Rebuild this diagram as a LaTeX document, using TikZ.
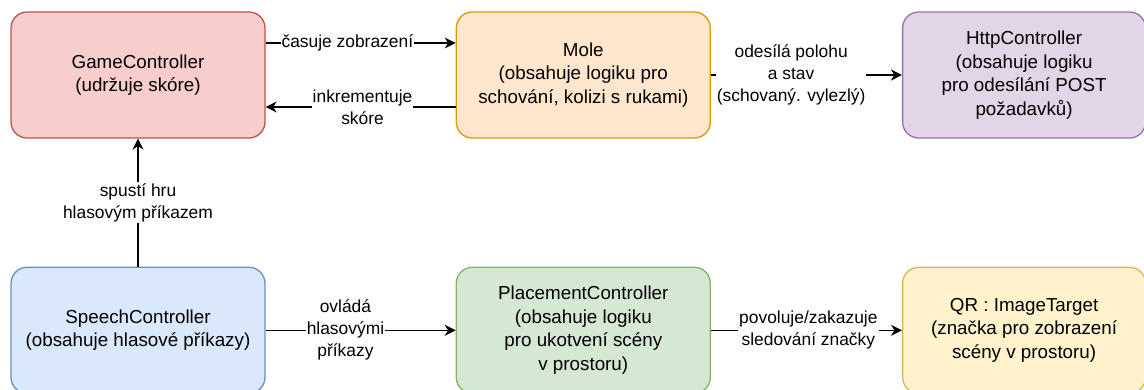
\documentclass[tikz,border=0pt]{standalone}
\usepackage{fontspec}
\setmainfont{Liberation Sans}
\usetikzlibrary{arrows.meta}
\usetikzlibrary{positioning}

\definecolor{gcfill}{HTML}{F8CECC}
\definecolor{gcdraw}{HTML}{B85450}
\definecolor{molefill}{HTML}{FFE6CC}
\definecolor{moledraw}{HTML}{D79B00}
\definecolor{httpfill}{HTML}{E1D5E7}
\definecolor{httpdraw}{HTML}{9673A6}
\definecolor{speechfill}{HTML}{DAE8FC}
\definecolor{speechdraw}{HTML}{6C8EBF}
\definecolor{placefill}{HTML}{D5E8D4}
\definecolor{placedraw}{HTML}{82B366}
\definecolor{qrfill}{HTML}{FFF2CC}
\definecolor{qrdraw}{HTML}{D6B656}

\begin{document}
\begin{tikzpicture}[>={Stealth[length=11pt,width=11pt,inset=3.5pt]},node distance=190pt,line width=1.3pt]
 \tikzstyle{box node}=[rectangle,rounded corners=16pt,draw,minimum width=254pt,minimum height=126pt,align=center,font=\fontsize{18.8}{23.5}\selectfont]
 \tikzstyle{edge label}=[fill=white,inner sep=1pt,align=center,font=\fontsize{17.4}{22}\selectfont]
 \tikzset{
 	game node/.style={box node,draw=gcdraw,fill=gcfill},
 	mole node/.style={box node,draw=moledraw,fill=molefill},
 	http node/.style={box node,draw=httpdraw,fill=httpfill,minimum width=243pt},
 	speech node/.style={box node,draw=speechdraw,fill=speechfill},
 	place node/.style={box node,draw=placedraw,fill=placefill},
 	qr node/.style={box node,draw=qrdraw,fill=qrfill,minimum width=243pt}
 }

       \useasboundingbox (0pt,0pt) rectangle (1144pt,-389pt);

       \node[game node] (gc) at (138pt,-75pt) {GameController\\(udržuje skóre)};
       \node[mole node] (mole) [right=of gc] {Mole\\(obsahuje logiku pro\\schování, kolizi s rukami)};
       \node[http node] (http) [right=191pt of mole] {HttpController\\(obsahuje logiku\\pro odesílání POST\\požadavků)};

       \node[speech node] (speech) [below=128pt of gc] {SpeechController\\(obsahuje hlasové příkazy)};
       \node[place node] (place) [right=of speech] {PlacementController\\(obsahuje logiku\\pro ukotvení scény\\v prostoru)};
       \node[qr node] (qr) [right=191pt of place] {QR : ImageTarget\\(značka pro zobrazení\\scény v prostoru)};

     \path[->]  ([yshift=32pt]gc.east) edge node[edge label,pos=0.43] {časuje zobrazení} ([yshift=32pt]mole.west);
     \path[->]  ([yshift=-32pt]mole.west) edge node[edge label,pos=0.49] {inkrementuje\\skóre} ([yshift=-32pt]gc.east);
     \path[->]  (mole) edge node[edge label,pos=0.42] {odesílá polohu\\a stav\\(schovaný. vylezlý)} (http);

     \path[->]  (speech) edge node[edge label] {spustí hru\\hlasovým příkazem} (gc);
     \path[->]  (speech) edge node[edge label,pos=0.42] {ovládá\\hlasovými\\příkazy} (place);
     \path[->]  (place) edge node[edge label,pos=0.51] {povoluje/zakazuje\\sledování značky} (qr);
 \end{tikzpicture}
\end{document}
